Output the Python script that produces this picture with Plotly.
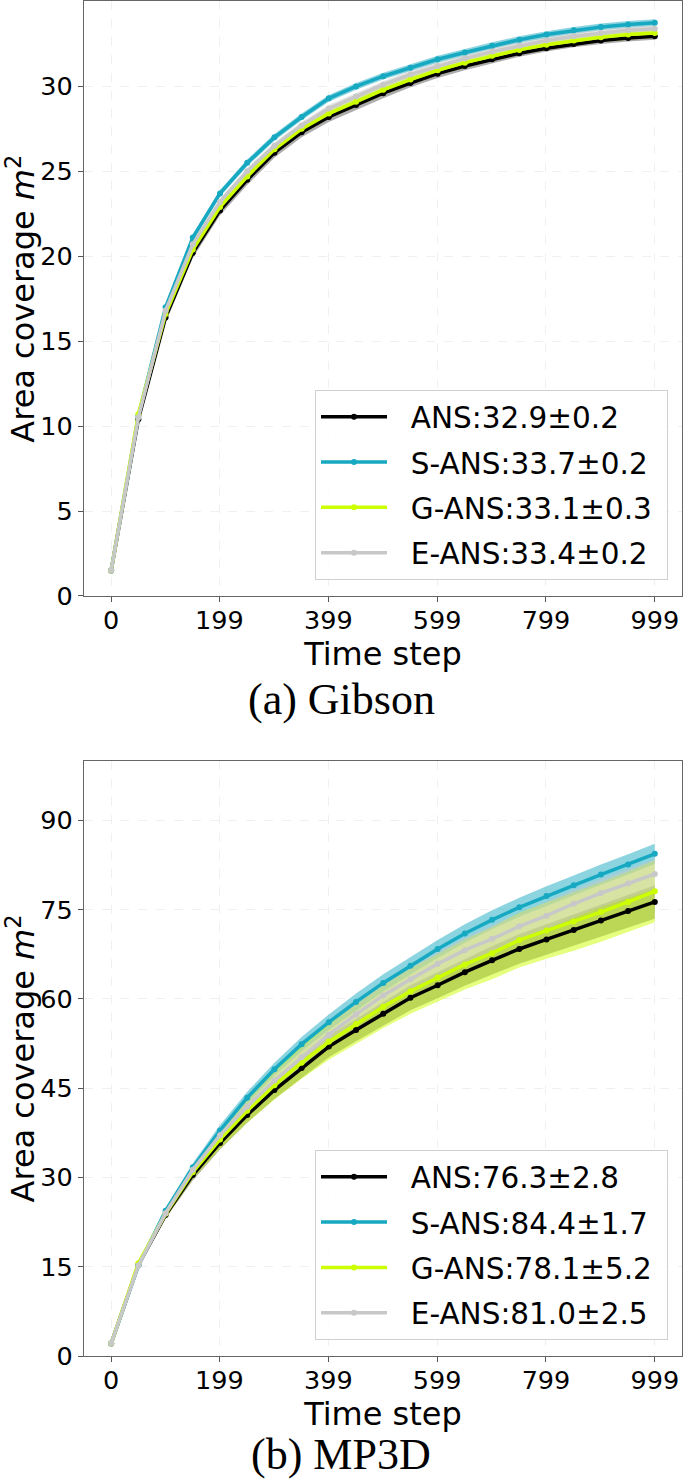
import plotly.graph_objects as go

# time steps where the curves are sampled
steps = [0, 50, 100, 150, 200, 250, 300, 350, 400, 450, 500,
         550, 600, 650, 700, 750, 800, 850, 900, 950, 999]
tick_steps = [0, 199, 399, 599, 799, 999]

methods = ["ANS", "S-ANS", "G-ANS", "E-ANS"]
colors = ["#000000", "#17a9c1", "#ccff00", "#c8c8c8"]
band_colors = ["rgba(0,0,0,0.32)", "rgba(23,169,193,0.5)",
               "rgba(204,255,0,0.5)", "rgba(200,200,200,0.5)"]

# (a) Gibson
gib_ans = [1.5, 10.4, 16.4, 20.2, 22.7, 24.5, 26.1, 27.3, 28.2, 28.9, 29.6,
           30.2, 30.75, 31.2, 31.6, 31.95, 32.25, 32.5, 32.7, 32.85, 32.95]
gib_s = [1.5, 10.6, 17.0, 21.1, 23.7, 25.5, 27.0, 28.2, 29.3, 30.0, 30.6,
         31.1, 31.6, 32.0, 32.4, 32.75, 33.05, 33.3, 33.5, 33.65, 33.75]
gib_g = [1.5, 10.7, 16.6, 20.4, 22.9, 24.7, 26.3, 27.5, 28.4, 29.1, 29.8,
         30.4, 30.95, 31.4, 31.8, 32.15, 32.45, 32.7, 32.9, 33.05, 33.15]
gib_e = [1.5, 10.5, 16.8, 20.7, 23.2, 25.0, 26.5, 27.7, 28.7, 29.4, 30.1,
         30.7, 31.2, 31.65, 32.05, 32.4, 32.7, 32.95, 33.15, 33.3, 33.4]
gib_ans_sd = [0.0, 0.15, 0.3, 0.3, 0.3, 0.3, 0.3, 0.3, 0.3, 0.3, 0.3,
              0.25, 0.25, 0.25, 0.25, 0.2, 0.2, 0.2, 0.2, 0.2, 0.2]
gib_s_sd = [0.0, 0.15, 0.2, 0.2, 0.2, 0.2, 0.2, 0.2, 0.2, 0.2, 0.2,
            0.2, 0.2, 0.2, 0.2, 0.2, 0.2, 0.2, 0.2, 0.2, 0.2]
gib_g_sd = [0.0, 0.15, 0.2, 0.25, 0.25, 0.25, 0.3, 0.3, 0.3, 0.3, 0.3,
            0.3, 0.3, 0.3, 0.3, 0.3, 0.3, 0.3, 0.3, 0.3, 0.3]
gib_e_sd = [0.0, 0.15, 0.2, 0.2, 0.2, 0.2, 0.2, 0.2, 0.2, 0.2, 0.2,
            0.2, 0.2, 0.2, 0.2, 0.2, 0.2, 0.2, 0.2, 0.2, 0.2]
gib_labels = ["ANS:32.9±0.2", "S-ANS:33.7±0.2", "G-ANS:33.1±0.3", "E-ANS:33.4±0.2"]

# (b) MP3D
mp_ans = [2.1, 15.3, 23.7, 30.4, 35.8, 40.5, 44.7, 48.4, 52.0, 54.8, 57.5,
          60.2, 62.3, 64.5, 66.5, 68.4, 70.0, 71.6, 73.2, 74.8, 76.3]
mp_s = [2.1, 15.2, 24.4, 31.7, 37.9, 43.4, 48.2, 52.4, 56.1, 59.5, 62.7,
        65.6, 68.4, 71.0, 73.3, 75.4, 77.3, 79.1, 80.9, 82.6, 84.4]
mp_g = [2.1, 15.6, 23.9, 30.9, 36.4, 41.2, 45.5, 49.3, 52.8, 55.8, 58.7,
        61.3, 63.6, 65.8, 67.7, 69.9, 71.5, 73.0, 74.6, 76.3, 78.1]
mp_e = [2.1, 15.2, 24.0, 31.3, 37.1, 41.9, 46.3, 50.2, 54.0, 57.4, 60.6,
        63.3, 65.9, 68.2, 70.1, 72.2, 74.0, 76.0, 77.8, 79.4, 81.0]
mp_ans_sd = [0.0, 0.3, 0.6, 0.9, 1.1, 1.3, 1.5, 1.7, 1.8, 1.9, 2.0,
             2.1, 2.2, 2.3, 2.4, 2.5, 2.55, 2.6, 2.7, 2.75, 2.8]
mp_s_sd = [0.0, 0.3, 0.5, 0.7, 0.9, 1.0, 1.1, 1.2, 1.3, 1.4, 1.45,
           1.5, 1.5, 1.55, 1.6, 1.6, 1.65, 1.65, 1.7, 1.7, 1.7]
mp_g_sd = [0.0, 0.4, 0.8, 1.2, 1.6, 2.0, 2.4, 2.7, 3.0, 3.3, 3.6,
           3.8, 4.0, 4.2, 4.4, 4.6, 4.75, 4.9, 5.0, 5.1, 5.2]
mp_e_sd = [0.0, 0.3, 0.5, 0.7, 0.9, 1.1, 1.3, 1.5, 1.6, 1.7, 1.8,
           1.9, 2.0, 2.1, 2.2, 2.25, 2.3, 2.35, 2.4, 2.45, 2.5]
mp_labels = ["ANS:76.3±2.8", "S-ANS:84.4±1.7", "G-ANS:78.1±5.2", "E-ANS:81.0±2.5"]

panels = [
    ("x", "y", "legend", [gib_ans, gib_s, gib_g, gib_e],
     [gib_ans_sd, gib_s_sd, gib_g_sd, gib_e_sd], gib_labels),
    ("x2", "y2", "legend2", [mp_ans, mp_s, mp_g, mp_e],
     [mp_ans_sd, mp_s_sd, mp_g_sd, mp_e_sd], mp_labels),
]

fig = go.Figure()
for xa, ya, leg, means, sds, labels in panels:
    # shaded mean +/- std bands first
    for m, sd, bc in zip(means, sds, band_colors):
        lo = [a - b for a, b in zip(m, sd)]
        hi = [a + b for a, b in zip(m, sd)]
        fig.add_trace(go.Scatter(x=steps, y=lo, mode="lines", line=dict(width=0),
                                 xaxis=xa, yaxis=ya, showlegend=False, hoverinfo="skip"))
        fig.add_trace(go.Scatter(x=steps, y=hi, mode="lines", line=dict(width=0),
                                 fill="tonexty", fillcolor=bc, xaxis=xa, yaxis=ya,
                                 showlegend=False, hoverinfo="skip"))
    for i, (m, c, lab) in enumerate(zip(means, colors, labels)):
        fig.add_trace(go.Scatter(x=steps, y=m, mode="lines+markers",
                                 name="\u00a0\u00a0" + lab + "\u00a0",
                                 line=dict(color=c, width=3.5),
                                 marker=dict(color=c, size=6),
                                 xaxis=xa, yaxis=ya, legend=leg,
                                 legendgroup=f"{leg}{i}"))

tick_font = dict(family="DejaVu Sans", size=25.5, color="#000000")
title_font = dict(family="DejaVu Sans", size=32, color="#000000")
x_common = dict(range=[-49.95, 1048.95], tickvals=tick_steps, automargin=False,
                ticks="outside", ticklen=5, tickcolor="#555555", ticklabelstandoff=-4,
                showline=True, linecolor="#666666", linewidth=1.2, mirror=True,
                showgrid=True, gridcolor="#f0f0f0", griddash="dash", zeroline=False,
                tickfont=tick_font,
                title=dict(text="Time step", font=title_font, standoff=2))
y_common = dict(ticks="outside", ticklen=5, tickcolor="#555555", automargin=False,
                showline=True, linecolor="#666666", linewidth=1.2, mirror=True,
                showgrid=True, gridcolor="#f0f0f0", griddash="dash", zeroline=False,
                tickfont=tick_font,
                title=dict(text="Area coverage <i>m</i><sup>2</sup>", font=title_font,
                           standoff=4))
legend_common = dict(font=dict(family="DejaVu Sans", size=29.5, color="#000000"),
                     bgcolor="rgba(255,255,255,0.85)", bordercolor="#d0d0d0",
                     borderwidth=1, xanchor="right", yanchor="bottom",
                     tracegroupgap=4, itemwidth=66)

fig.update_layout(
    width=685, height=1481,
    margin=dict(l=0, r=0, t=0, b=0),
    plot_bgcolor="white", paper_bgcolor="white",
    xaxis=dict(domain=[0.1226, 0.9956], anchor="y", **x_common),
    yaxis=dict(domain=[0.5976, 0.999], anchor="x", range=[0, 35],
               tickvals=[0, 5, 10, 15, 20, 25, 30], **y_common),
    xaxis2=dict(domain=[0.1226, 0.9956], anchor="y2", **x_common),
    yaxis2=dict(domain=[0.0844, 0.4862], anchor="x2", range=[0, 100],
                tickvals=[0, 15, 30, 45, 60, 75, 90], **y_common),
    legend=dict(x=0.9752, y=0.6084, **legend_common),
    legend2=dict(x=0.9752, y=0.0952, **legend_common),
    annotations=[
        dict(text="(a) Gibson", x=0.4985, y=0.5274, xref="paper", yref="paper",
             showarrow=False, xanchor="center", yanchor="middle",
             font=dict(family="Liberation Serif", size=44, color="#000000")),
        dict(text="(b) MP3D", x=0.4985, y=0.0, xref="paper", yref="paper",
             showarrow=False, xanchor="center", yanchor="bottom",
             font=dict(family="Liberation Serif", size=44, color="#000000")),
    ],
)

# the page body has a default 8px margin; drop it so the figure fills the window
fig.write_html("out.html", config={"displayModeBar": False},
               post_script="document.body.style.margin='0';")
